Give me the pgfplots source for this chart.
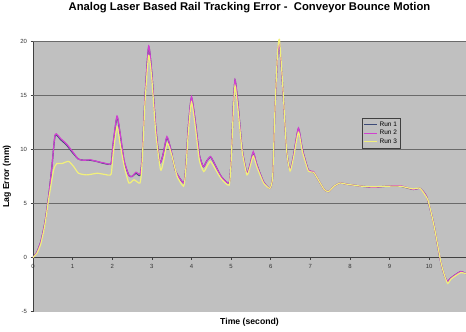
\documentclass[border=0pt]{standalone}
\usepackage{pgfplots}
\pgfplotsset{compat=1.18}
\usepackage{fontspec}
\setmainfont{Liberation Sans}
\definecolor{bg}{HTML}{C0C0C0}
\definecolor{gridc}{HTML}{6A6A6A}
\definecolor{runA}{HTML}{3C4A78}
\definecolor{runB}{HTML}{D040D0}
\definecolor{runC}{HTML}{F2F07A}
\begin{document}
\begin{tikzpicture}
\begin{axis}[
  scale only axis, width=433bp, height=270bp,
  xmin=0, xmax=10.93, ymin=-5, ymax=20,
  axis x line=middle, axis y line=left,
  axis line style={-, draw=black!75, line width=0.6pt},
  xtick={0,...,10}, ytick={-5,0,...,20},
  hide obscured x ticks=false, hide obscured y ticks=false,
  tick align=outside, major tick length=2.5bp,
  tick style={black!75, line width=0.5pt},
  tick label style={font=\fontsize{6}{7}\selectfont, text=black!80},
  /pgf/number format/assume math mode=true,
  xticklabel style={yshift=-1bp},
  axis background/.style={fill=bg},
  extra y ticks={5,10,15,20}, extra y tick labels={},
  extra y tick style={ymajorgrids=true, major tick length=0pt,
     major grid style={draw=gridc, line width=1.3pt}},
  clip=false,
  title={Analog Laser Based Rail Tracking Error -\ \ Conveyor Bounce Motion},
  title style={font=\bfseries\fontsize{11.3}{13}\selectfont, at={(axis description cs:0.5,1.1037)}, anchor=center},
  xlabel={Time (second)},
  xlabel style={font=\bfseries\fontsize{8.7}{10}\selectfont, at={(axis description cs:0.5,-0.0389)}, anchor=center},
  ylabel={Lag Error (mm)},
  ylabel style={font=\bfseries\fontsize{8.7}{10}\selectfont, at={(axis description cs:-0.060,0.5)}, anchor=center, rotate=0},
  legend style={at={(0.76,0.717)}, anchor=north west, fill=bg, draw=black!75, line width=0.6pt,
     font=\fontsize{6.5}{7.5}\selectfont, inner sep=1.5bp, row sep=-1.5bp, legend cell align=left},
  legend image code/.code={\draw[#1, line width=0.8pt] (0bp,0bp) -- (13bp,0bp);},
  every axis plot/.append style={line width=1.2pt, smooth, tension=0.35},
]
\coordinate (bl) at (rel axis cs:0,0);
\coordinate (tr) at (rel axis cs:1,1);
% Run 1 (hidden beneath Run 2)
\addplot[runA] coordinates {
(0,0) (0.1,0.5) (0.2,1.5) (0.3,3.2) (0.4,5.8) (0.48,8.5) (0.56,11.3) (0.7,10.9) (0.85,10.4) (1.0,9.7) (1.15,9.1) (1.3,9.0) (1.45,9.0) (1.6,8.9) (1.8,8.7) (1.97,8.7)
(2.02,10.4) (2.12,13.0) (2.2,11.4) (2.3,8.9) (2.42,7.6) (2.5,7.5) (2.6,7.8) (2.7,7.6) (2.75,9.0) (2.83,15.0) (2.92,19.5) (3.0,17.0) (3.1,12.0) (3.2,8.8) (3.28,9.5) (3.38,11.1) (3.48,10.0) (3.6,8.0) (3.8,6.9)
(3.85,8.0) (3.92,12.0) (4.0,14.8) (4.1,12.5) (4.2,9.5) (4.3,8.4) (4.38,8.9) (4.48,9.3) (4.58,8.7) (4.75,7.5) (4.95,6.9)
(5.0,9.0) (5.05,13.5) (5.1,16.4) (5.18,14.0) (5.28,10.0) (5.4,7.8) (5.48,8.6) (5.56,9.7) (5.65,8.6) (5.82,7.0) (5.98,6.4)
(6.05,7.5) (6.1,13.0) (6.17,18.5) (6.22,19.8) (6.3,16.0) (6.4,10.0) (6.49,8.1) (6.58,9.5) (6.7,11.9) (6.8,10.0) (6.95,8.1) (7.08,7.9)
(7.2,7.2) (7.35,6.3) (7.46,6.1) (7.6,6.6) (7.75,6.9) (7.9,6.8) (8.09,6.7) (8.3,6.6) (8.6,6.5) (8.93,6.6) (9.27,6.6) (9.6,6.3) (9.77,6.4)
(9.94,5.6) (10.11,3.2) (10.28,-0.2) (10.38,-1.6) (10.46,-2.2) (10.55,-1.9) (10.66,-1.6) (10.8,-1.3) (10.93,-1.5)
};
\addlegendentry{Run 1}
% Run 2
\addplot[runB] coordinates {
(0,0) (0.1,0.5) (0.2,1.5) (0.3,3.2) (0.4,5.8) (0.48,8.5) (0.56,11.4) (0.7,11.0) (0.85,10.5) (1.0,9.8) (1.15,9.1) (1.3,9.0) (1.45,9.05) (1.6,8.9) (1.8,8.75) (1.97,8.7)
(2.02,10.5) (2.12,13.1) (2.2,11.5) (2.3,9.0) (2.42,7.6) (2.5,7.5) (2.6,7.9) (2.7,7.7) (2.75,9.0) (2.83,15.0) (2.92,19.6) (3.0,17.0) (3.1,12.0) (3.2,8.8) (3.28,9.5) (3.38,11.2) (3.48,10.0) (3.6,8.0) (3.8,6.9)
(3.85,8.0) (3.92,12.0) (4.0,14.9) (4.1,12.5) (4.2,9.5) (4.3,8.4) (4.38,8.9) (4.48,9.35) (4.58,8.7) (4.75,7.5) (4.95,6.9)
(5.0,9.0) (5.05,13.5) (5.1,16.45) (5.18,14.0) (5.28,10.0) (5.4,7.8) (5.48,8.6) (5.56,9.8) (5.65,8.6) (5.82,7.0) (5.98,6.4)
(6.05,7.5) (6.1,13.0) (6.17,18.5) (6.22,19.85) (6.3,16.0) (6.4,10.0) (6.49,8.1) (6.58,9.5) (6.7,12.0) (6.8,10.0) (6.95,8.1) (7.08,7.96)
(7.2,7.2) (7.35,6.3) (7.46,6.1) (7.6,6.6) (7.75,6.9) (7.9,6.8) (8.09,6.7) (8.3,6.6) (8.6,6.5) (8.93,6.6) (9.27,6.65) (9.6,6.3) (9.77,6.4)
(9.94,5.6) (10.11,3.2) (10.28,-0.2) (10.38,-1.6) (10.46,-2.2) (10.55,-1.9) (10.66,-1.6) (10.8,-1.3) (10.93,-1.5)
};
\addlegendentry{Run 2}
% Run 3
\addplot[runC] coordinates {
(0,0) (0.1,0.4) (0.2,1.3) (0.3,3.0) (0.4,5.5) (0.52,8.1) (0.6,8.7) (0.73,8.7) (0.9,8.9) (1.03,8.4) (1.15,7.8) (1.36,7.65) (1.62,7.8) (1.8,7.7) (1.97,7.7)
(2.02,9.5) (2.12,12.1) (2.2,10.5) (2.3,8.5) (2.42,6.9) (2.55,7.2) (2.7,6.9) (2.75,8.5) (2.83,14.5) (2.92,18.7) (3.0,16.5) (3.1,11.5) (3.22,8.1) (3.3,9.0) (3.39,10.6) (3.5,9.5) (3.64,7.5) (3.8,6.6)
(3.85,7.8) (3.92,11.5) (4.0,14.4) (4.1,12.0) (4.2,9.0) (4.31,7.96) (4.4,8.5) (4.48,8.9) (4.6,8.2) (4.75,7.3) (4.95,6.7)
(5.0,8.8) (5.05,13.0) (5.1,15.9) (5.18,13.5) (5.28,9.8) (5.4,7.65) (5.48,8.4) (5.56,9.4) (5.65,8.4) (5.82,6.9) (5.98,6.4)
(6.05,7.5) (6.1,13.0) (6.17,18.8) (6.22,20.2) (6.3,16.2) (6.4,10.0) (6.49,8.0) (6.58,9.3) (6.7,11.6) (6.8,9.8) (6.95,8.0) (7.08,7.9)
(7.2,7.2) (7.35,6.3) (7.46,6.1) (7.6,6.6) (7.75,6.9) (7.9,6.8) (8.09,6.7) (8.3,6.6) (8.6,6.55) (8.93,6.6) (9.27,6.6) (9.6,6.35) (9.77,6.4)
(9.97,5.3) (10.13,2.8) (10.3,-0.5) (10.4,-1.8) (10.47,-2.4) (10.55,-2.0) (10.66,-1.7) (10.8,-1.4) (10.93,-1.5)
};
\addlegendentry{Run 3}
\end{axis}
\pgfresetboundingbox
\path ([xshift=-33bp,yshift=-20.5bp]bl) rectangle ([yshift=41.5bp]tr);
\end{tikzpicture}
\end{document}
